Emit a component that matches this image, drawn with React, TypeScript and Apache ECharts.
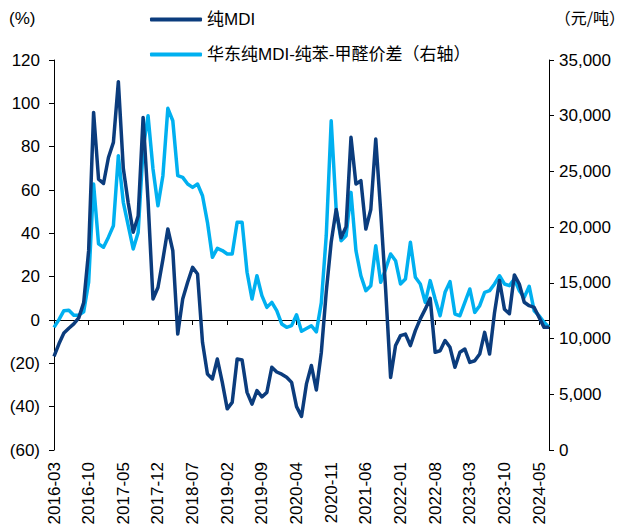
import React, { useEffect, useRef } from "react";
import * as echarts from "echarts";

// Monthly categories 2016-03 .. 2024-07
const startYear = 2016;
const startMonth = 3;
const monthCount = 101;
const categories: string[] = [];
for (let k = 0; k < monthCount; k++) {
  const m = startMonth - 1 + k;
  const y = startYear + Math.floor(m / 12);
  const mm = (m % 12) + 1;
  categories.push(`${y}-${mm < 10 ? "0" + mm : mm}`);
}

const seriesNames = ["纯MDI", "华东纯MDI-纯苯-甲醛价差（右轴）"];

// 纯MDI (%) — left axis
const pureMdi = [
  -16.8, -11, -6, -3.8, -1.8, 1, 8, 32, 95.8, 65,
  63, 75, 82, 110, 70, 54, 40.5, 48, 93.5, 55,
  9.7, 15, 28, 42, 32, -6.5, 9.7, 17.4, 24.3, 21.2,
  -10.3, -24.9, -27.2, -18, -28.8, -41, -38, -18, -18.5, -33.4,
  -38.8, -32.6, -35.5, -33.4, -21.8, -24, -25, -26.4, -28.8, -40,
  -44.5, -29.5, -21, -32.3, -15, 13, 36, 51, 38, 43,
  84.3, 62.8, 64.3, 42, 51, 83.5, 50, 14, -26.5, -11.8,
  -7.2, -6.5, -11.8, -4.9, 0.5, 5, 10, -14.9, -14.2, -9.5,
  -12.6, -21.8, -14.9, -13.4, -19.6, -18.8, -15.7, -5.7, -15.7, 3.5,
  18.2, 5, 2.9, 20.8, 16.6, 8.2, 6.6, 5.8, 1.2, -3.4,
  -3.4,
];

// 华东纯MDI-纯苯-甲醛价差 (元/吨) — right axis
const spread = [
  11000, 11700, 12500, 12550, 12100, 12100, 12400, 15050, 23870, 18500,
  18200, 19100, 20130, 26410, 22230, 20130, 18040, 19530, 27010, 30000,
  25220, 21920, 24620, 30660, 29550, 24620, 24470, 23870, 23570, 23870,
  22820, 20430, 17290, 18100, 17900, 17590, 17590, 20430, 20430, 15950,
  13550, 15640, 13850, 12800, 13250, 12500, 11310, 11010, 11160, 12140,
  10650, 10900, 11150, 10600, 13200, 19230, 29550, 21630, 18780, 19230,
  23120, 17890, 15640, 14300, 14740, 18330, 15050, 16240, 17590, 16990,
  14900, 15350, 18640, 15500, 14900, 13250, 15200, 13550, 12050, 14150,
  15110, 12200, 12050, 13250, 14450, 12350, 12950, 14150, 14300, 14900,
  15640, 14900, 14750, 15350, 14300, 13700, 14690, 12500, 12050, 11460,
  11010,
];

const leftTicks = { min: -60, max: 120, interval: 20 };
const rightTicks = { min: 0, max: 35000, interval: 5000 };

const darkColor = "#0B3C7D";
const lightColor = "#00B0F0";
const FONT = "'Liberation Sans', Arial, 'Noto Sans CJK SC', sans-serif";
const CJK_FONT = "'Noto Sans CJK SC', sans-serif";

export default function App() {
  const ref = useRef<HTMLDivElement>(null);
  useEffect(() => {
    document.body.style.margin = "0";
    if (!ref.current) return;
    const chart = echarts.init(ref.current, null, { renderer: "svg" });
    const axisLine = { show: true, lineStyle: { color: "#000", width: 1 } };
    chart.setOption({
      animation: false,
      textStyle: { fontFamily: FONT },
      grid: { left: 54, right: 78, top: 60, bottom: 82, containLabel: false },
      legend: {
        orient: "vertical",
        left: 145,
        top: 6,
        itemWidth: 52,
        itemHeight: 4,
        itemGap: 18,
        icon: "roundRect",
        textStyle: { fontSize: 17, color: "#000", fontFamily: FONT },
        data: seriesNames,
      },
      graphic: [
        {
          type: "text",
          left: 9,
          top: 10,
          style: { text: "(%)", fontSize: 17, fill: "#000", fontFamily: FONT },
        },
        {
          type: "text",
          right: 2,
          top: 9,
          style: { text: "（元/吨）", fontSize: 16, fill: "#000", fontFamily: CJK_FONT },
        },
      ],
      xAxis: [
        {
          type: "category",
          data: categories,
          boundaryGap: false,
          position: "bottom",
          axisLine: { show: false, onZero: false },
          axisTick: { show: false },
          axisLabel: {
            interval: 6,
            rotate: 90,
            fontSize: 17,
            color: "#000",
            margin: 12,
            fontFamily: FONT,
          },
          splitLine: { show: false },
        },
        {
          type: "category",
          data: categories,
          boundaryGap: false,
          position: "bottom",
          axisLine: { show: true, onZero: true, onZeroAxisIndex: 0, lineStyle: { color: "#000", width: 1 } },
          axisTick: { show: true, interval: 6, length: 5, lineStyle: { color: "#000" } },
          axisLabel: { show: false },
          splitLine: { show: false },
        },
      ],
      yAxis: [
        {
          type: "value",
          position: "left",
          min: leftTicks.min,
          max: leftTicks.max,
          interval: leftTicks.interval,
          axisLine,
          axisTick: { show: true, length: 5, lineStyle: { color: "#000" } },
          splitLine: { show: false },
          axisLabel: {
            fontSize: 17,
            color: "#000",
            margin: 14,
            fontFamily: FONT,
            formatter: (v: number) => (v < 0 ? `(${-v})` : `${v}`),
          },
        },
        {
          type: "value",
          position: "right",
          min: rightTicks.min,
          max: rightTicks.max,
          interval: rightTicks.interval,
          axisLine,
          axisTick: { show: true, length: 5, lineStyle: { color: "#000" } },
          splitLine: { show: false },
          axisLabel: {
            fontSize: 17,
            color: "#000",
            margin: 10,
            fontFamily: FONT,
            formatter: (v: number) => v.toLocaleString("en-US"),
          },
        },
      ],
      series: [
        {
          name: seriesNames[0],
          type: "line",
          data: pureMdi,
          xAxisIndex: 0,
          yAxisIndex: 0,
          symbol: "none",
          z: 3,
          lineStyle: { color: darkColor, width: 3.5, join: "round" },
          itemStyle: { color: darkColor },
        },
        {
          name: seriesNames[1],
          type: "line",
          data: spread,
          xAxisIndex: 0,
          yAxisIndex: 1,
          symbol: "none",
          z: 2,
          lineStyle: { color: lightColor, width: 3.5, join: "round" },
          itemStyle: { color: lightColor },
        },
      ],
    });
    return () => chart.dispose();
  }, []);
  return <div ref={ref} style={{ width: 627, height: 532 }} />;
}
